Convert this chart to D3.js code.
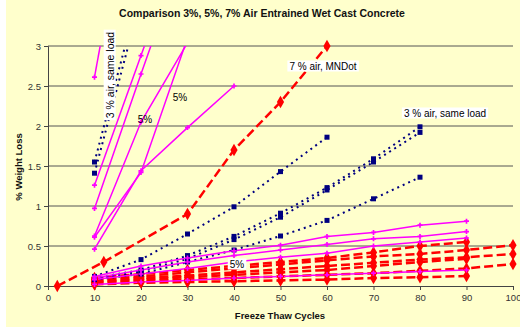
<!DOCTYPE html>
<html>
<head>
<meta charset="utf-8">
<script src="https://cdn.jsdelivr.net/npm/d3@7"></script>
<style>
  html, body { margin: 0; padding: 0; background: #ffffff; }
  svg { display: block; }
  text { font-family: Arial, "Liberation Sans", sans-serif; }
</style>
</head>
<body>
<svg id="chart" width="520" height="327"></svg>
<script>
// Freeze-thaw weight loss series: [cycles, % weight loss]
const xTicks = [0, 10, 20, 30, 40, 50, 60, 70, 80, 90, 100];
const yTicks = [0, 0.5, 1, 1.5, 2, 2.5, 3];

// 5% air (magenta, solid)
const air5 = [
  [[10, 2.61], [20, 5.8]],
  [[10, 1.26], [20, 2.88], [30, 4.5]],
  [[10, 0.97], [20, 2.65], [30, 4.3]],
  [[10, 0.625], [20, 2.05], [30, 3.04]],
  [[10, 0.46], [20, 1.44], [30, 1.98], [40, 2.5]],
  [[10, 0.61], [20, 1.42], [30, 3.1]],
  [[10, 0.12], [20, 0.25], [30, 0.35], [40, 0.44], [50, 0.51], [60, 0.62], [70, 0.67], [80, 0.76], [90, 0.81]],
  [[10, 0.10], [20, 0.2], [30, 0.3], [40, 0.38], [50, 0.45], [60, 0.52], [70, 0.59], [80, 0.62], [90, 0.68]],
  [[10, 0.08], [20, 0.15], [30, 0.22], [40, 0.3], [50, 0.36], [60, 0.41], [70, 0.5], [80, 0.55], [90, 0.6]],
  [[10, 0.02], [20, 0.05], [30, 0.07], [40, 0.1], [50, 0.12], [60, 0.14], [70, 0.16], [80, 0.18], [90, 0.2]]
];

// 3% air, same load (navy, dotted)
const air3 = [
  [[10, 1.55], [20, 3.75]],
  [[10, 1.41], [20, 3.6]],
  [[10, 0.12], [20, 0.33], [30, 0.65], [40, 0.99], [50, 1.43], [60, 1.86]],
  [[10, 0.1], [20, 0.2], [30, 0.38], [40, 0.62], [50, 0.91], [60, 1.23], [70, 1.59], [80, 1.99]],
  [[10, 0.09], [20, 0.18], [30, 0.34], [40, 0.58], [50, 0.86], [60, 1.2], [70, 1.55], [80, 1.92]],
  [[10, 0.08], [20, 0.15], [30, 0.3], [40, 0.45], [50, 0.625], [60, 0.82], [70, 1.09], [80, 1.36]]
];

// 7% air, MNDot (red, dashed)
const air7 = [
  [[2, 0], [12, 0.3], [30, 0.9], [40, 1.7], [50, 2.3], [60, 3.0]],
  [[10, 0.1], [20, 0.15], [30, 0.2], [40, 0.25], [50, 0.3], [60, 0.35], [70, 0.42], [80, 0.5], [90, 0.55]],
  [[10, 0.08], [20, 0.12], [30, 0.17], [40, 0.22], [50, 0.27], [60, 0.32], [70, 0.37], [80, 0.4], [90, 0.45], [100, 0.51]],
  [[10, 0.06], [20, 0.1], [30, 0.13], [40, 0.17], [50, 0.21], [60, 0.25], [70, 0.29], [80, 0.33], [90, 0.36], [100, 0.4]],
  [[10, 0.05], [20, 0.08], [30, 0.11], [40, 0.14], [50, 0.17], [60, 0.2], [70, 0.25], [80, 0.3], [90, 0.34]],
  [[10, 0.04], [20, 0.06], [30, 0.08], [40, 0.1], [50, 0.12], [60, 0.14], [70, 0.16], [80, 0.19], [90, 0.22], [100, 0.275]],
  [[10, 0.02], [20, 0.04], [30, 0.05], [40, 0.06], [50, 0.07], [60, 0.08], [70, 0.1], [80, 0.11], [90, 0.125]]
];

const svg = d3.select("#chart");
const W = 520, H = 327;
const m = { left: 48, right: 513, top: 46, bottom: 286 };

svg.append("rect").attr("x", 6).attr("y", 0).attr("width", W - 6).attr("height", H)
  .attr("fill", "#ffffcc");

const x = d3.scaleLinear().domain([0, 100]).range([m.left, m.right]);
const y = d3.scaleLinear().domain([0, 3]).range([m.bottom, m.top]);

svg.append("defs").append("clipPath").attr("id", "plotClip")
  .append("rect").attr("x", m.left).attr("y", m.top)
  .attr("width", m.right - m.left).attr("height", m.bottom - m.top);

// horizontal gridlines
svg.append("g").selectAll("line").data(yTicks.filter(d => d > 0)).join("line")
  .attr("x1", m.left).attr("x2", m.right)
  .attr("y1", d => y(d)).attr("y2", d => y(d))
  .attr("stroke", "#555555").attr("stroke-width", 1);

// axes
const yAxis = svg.append("g").attr("transform", `translate(${m.left},0)`)
  .call(d3.axisLeft(y).tickValues(yTicks).tickSize(4).tickPadding(3)
    .tickFormat(d => d3.format("")(d)));
const xAxis = svg.append("g").attr("transform", `translate(0,${m.bottom})`)
  .call(d3.axisBottom(x).tickValues(xTicks).tickSize(4).tickPadding(4));
[yAxis, xAxis].forEach(g => {
  g.select(".domain").attr("stroke", "#444444");
  g.selectAll(".tick line").attr("stroke", "#444444");
  g.selectAll(".tick text").attr("font-size", 9.5).attr("fill", "#333333")
    .attr("font-family", "Arial, 'Liberation Sans', sans-serif");
});

const line = d3.line().x(d => x(d[0])).y(d => y(d[1]));
const inRange = d => d[1] >= 0 && d[1] <= 3 && d[0] <= 100;
const plot = svg.append("g");
const lines = plot.append("g").attr("clip-path", "url(#plotClip)");

// 7% red dashed
lines.selectAll("path.r").data(air7).join("path").attr("class", "r")
  .attr("d", line).attr("fill", "none").attr("stroke", "#ff0000")
  .attr("stroke-width", 2.5).attr("stroke-dasharray", "9,4");
// 3% navy dotted
lines.selectAll("path.b").data(air3).join("path").attr("class", "b")
  .attr("d", line).attr("fill", "none").attr("stroke", "#000080")
  .attr("stroke-width", 2).attr("stroke-dasharray", "2,4");
// 5% magenta solid
lines.selectAll("path.m").data(air5).join("path").attr("class", "m")
  .attr("d", line).attr("fill", "none").attr("stroke", "#ff00ff")
  .attr("stroke-width", 1.5);

// markers
const diamond = d3.symbol().type(d3.symbolDiamond);
plot.append("g").selectAll("path").data(air7.flat().filter(inRange)).join("path")
  .attr("transform", d => `translate(${x(d[0])},${y(d[1])})`)
  .attr("d", diamond.size(45)()).attr("fill", "#ff0000");
plot.append("g").selectAll("rect").data(air3.flat().filter(inRange)).join("rect")
  .attr("x", d => x(d[0]) - 2.5).attr("y", d => y(d[1]) - 2.5)
  .attr("width", 5).attr("height", 5).attr("fill", "#000080");
plot.append("g").selectAll("path").data(air5.flat().filter(inRange)).join("path")
  .attr("transform", d => `translate(${x(d[0])},${y(d[1])})`)
  .attr("d", d3.symbol().type(d3.symbolCross).size(14)()).attr("fill", "#ff00ff");

// data labels
function label(text, cx, cy, opts = {}) {
  const g = svg.append("g").attr("transform", `translate(${cx},${cy}) rotate(${opts.rotate || 0})`);
  const t = g.append("text").attr("text-anchor", "middle").attr("dy", "0.35em")
    .attr("font-size", opts.size || 10).attr("fill", "#000000").text(text);
  if (opts.box) {
    const b = t.node().getBBox();
    g.insert("rect", "text").attr("x", b.x - 2).attr("y", b.y).attr("width", b.width + 4)
      .attr("height", b.height).attr("fill", "#ffffff");
  }
}
label("3 % air, same load", 110, 75, { rotate: -90, box: true, size: 10.5 });
label("7 % air, MNDot", 323, 66, { box: true, size: 10 });
label("3 % air, same load", 445, 113, { box: true, size: 10 });
label("5%", 180, 97, { size: 10 });
label("5%", 145, 119, { size: 10 });
label("5%", 237, 264, { box: true, size: 10 });

// titles
svg.append("text").attr("x", 262).attr("y", 17).attr("text-anchor", "middle")
  .attr("font-size", 10.5).attr("font-weight", "bold").attr("fill", "#111111")
  .text("Comparison 3%, 5%, 7% Air Entrained Wet Cast Concrete");
svg.append("text").attr("x", 280).attr("y", 319).attr("text-anchor", "middle")
  .attr("font-size", 9.5).attr("font-weight", "bold").attr("fill", "#111111")
  .text("Freeze Thaw Cycles");
svg.append("text").attr("transform", "translate(22,167) rotate(-90)").attr("text-anchor", "middle")
  .attr("font-size", 9.5).attr("font-weight", "bold").attr("fill", "#111111")
  .text("% Weight Loss");
</script>
</body>
</html>
